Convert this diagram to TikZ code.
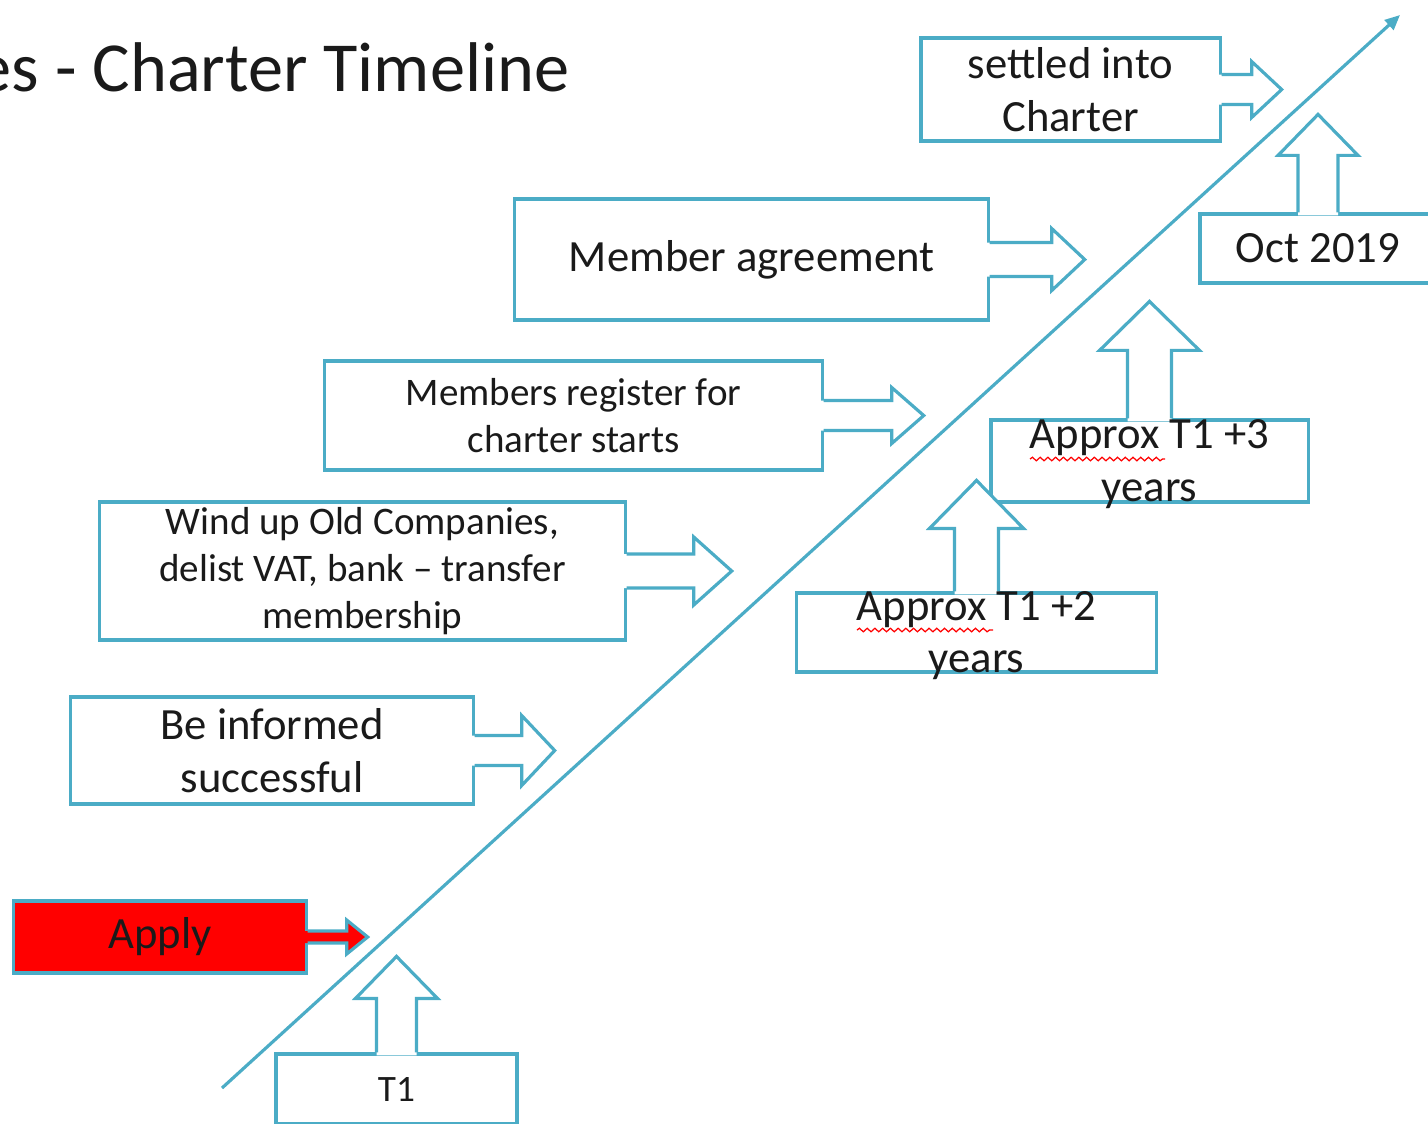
\documentclass[tikz,border=0pt]{standalone}
\usepackage{fontspec}
\setmainfont{Carlito}
\usetikzlibrary{arrows.meta,calc,decorations.pathmorphing}
\definecolor{turquesa}{HTML}{4BACC6}
\definecolor{rojo}{HTML}{FF0000}
\definecolor{tinta}{HTML}{1A1A1A}
\tikzset{borde/.style={draw=turquesa, line width=0.9pt, line join=miter}}
% flecha de bloque hacia la derecha: nodo, medio eje, media punta, largo eje, largo punta
\newcommand{\flechader}[6][white]{%
  \fill[#1] ($(#2.east)+(-3,-#3)$) -- ++(#5+3,0) -- ++(0,#3-#4) -- ++(#6,#4) -- ++(-#6,#4) -- ++(0,#3-#4) -- ++(-#5-3,0) -- cycle;
  \draw[borde] ($(#2.east)+(0,-#3)$) -- ++(#5,0) -- ++(0,#3-#4) -- ++(#6,#4) -- ++(-#6,#4) -- ++(0,#3-#4) -- ++(-#5,0);}
% flecha de bloque hacia arriba
\newcommand{\flechaarr}[5]{%
  \fill[white] ($(#1.north)+(-#2,3)$) -- ++(0,-#4-3) -- ++(#2-#3,0) -- ++(#3,-#5) -- ++(#3,#5) -- ++(#2-#3,0) -- ++(0,#4+3) -- cycle;
  \draw[borde] ($(#1.north)+(-#2,0)$) -- ++(0,-#4) -- ++(#2-#3,0) -- ++(#3,-#5) -- ++(#3,#5) -- ++(#2-#3,0) -- ++(0,#4);}

\begin{document}
\begin{tikzpicture}[x=0.01cm, y=-0.01cm,
  font=\fontsize{12.7}{15}\selectfont, text=tinta,
  caja/.style={borde, fill=white, inner sep=0pt, align=center},
  chica/.style={font=\fontsize{11.1}{13.4}\selectfont},
  texto/.style={align=center, inner sep=0pt},
  linea/.style={turquesa, line width=0.9pt, -{Triangle[length=0.15cm,width=0.13cm]}},
  corrector/.style={red, line width=0.35pt, decorate, decoration={snake, amplitude=0.5pt, segment length=2.2pt}}]
\useasboundingbox (0,0) rectangle (1428,1123);
\node[font=\fontsize{20}{24}\selectfont, anchor=base east, inner sep=0pt] (titulo) at (570,91) {es - Charter Timeline};
\coordinate (ini) at (222,1088);
\coordinate (fin) at (1400,15);
\draw[linea] (ini) -- (fin);
% cajas a la izquierda de la linea
\node[caja, minimum width=2.99cm, minimum height=1.03cm] (asentado) at (1070.5,89.5) {settled into\\Charter};
\node[caja, minimum width=4.73cm, minimum height=1.21cm] (acuerdo) at (751.5,259.5) {Member agreement};
\node[caja, chica, minimum width=4.97cm, minimum height=1.09cm] (registro) at (573.5,415.5) {Members register for\\charter starts};
\node[caja, chica, minimum width=5.25cm, minimum height=1.38cm] (cierre) at (362.5,571) {Wind up Old Companies,\\delist VAT, bank -- transfer\\membership};
\node[caja, minimum width=4.02cm, minimum height=1.07cm] (informado) at (272,750.5) {Be informed\\successful};
\node[caja, fill=rojo, minimum width=2.92cm, minimum height=0.72cm] (solicitud) at (160,937) {Apply};
\flechader{asentado}{15}{28}{30}{30}
\flechader{acuerdo}{17}{31}{62}{33}
\flechader{registro}{15}{28}{68}{32}
\flechader{cierre}{17}{34}{67}{38}
\flechader{informado}{15}{35}{47}{33}
\flechader[rojo]{solicitud}{6}{17}{39}{21}
% cajas debajo de la linea
\node[caja, font=\fontsize{10.6}{13}\selectfont, minimum width=2.41cm, minimum height=0.70cm] (t1) at (396.5,1089) {T1};
\node[caja, minimum width=3.59cm, minimum height=0.79cm] (t2) at (976.5,632.5) {};
\node[caja, minimum width=3.17cm, minimum height=0.82cm] (t3) at (1149.5,461) {};
\node[caja, minimum width=2.36cm, minimum height=0.69cm] (oct) at (1318,248.5) {Oct 2019};
\flechaarr{t1}{20}{41}{54}{42}
\flechaarr{t2}{22}{47}{63}{48}
\flechaarr{t3}{22}{50}{68}{49}
\flechaarr{oct}{20}{40}{57}{41}
\node[texto] (t2txt) at ($(t2)+(0,3)$) {Approx T1 +2\\years};
\node[texto] (t3txt) at ($(t3)+(0,3)$) {Approx T1 +3\\years};
\draw[corrector] (857,630) -- (993,630);
\draw[corrector] (1030,459) -- (1165,459);
\end{tikzpicture}
\end{document}
